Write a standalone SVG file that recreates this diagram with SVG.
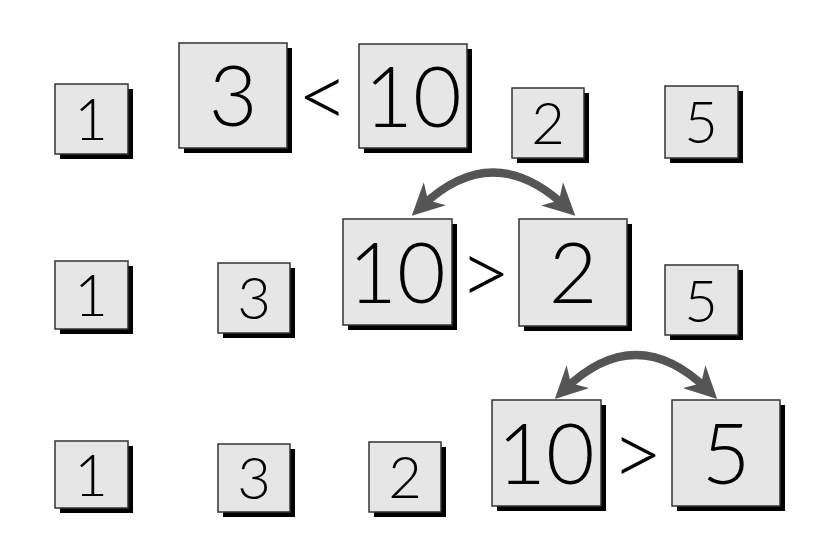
<svg xmlns="http://www.w3.org/2000/svg" width="834" height="556" viewBox="0 0 834 556">
<style>
.s{fill:#000}
.b{fill:#e6e6e6;stroke:#333;stroke-width:1.5}
.t{font-family:Lato,"Open Sans",sans-serif;font-weight:300;fill:#000;text-anchor:middle}
.sm{font-size:58px}
.bg{font-size:84px}
.op{font-size:90px}
.arc{fill:none;stroke:#555;stroke-width:8}
</style>
<defs>
<marker id="ah" viewBox="0 0 10 10" refX="6" refY="5" markerWidth="4" markerHeight="4" orient="auto-start-reverse" markerUnits="strokeWidth">
<path d="M0,0 L10,5 L0,10 L3,5 z" fill="#555"/>
</marker>
</defs>
<rect width="834" height="556" fill="#fff"/>
<g id="r1n1"><rect class="s" x="60" y="89" width="73" height="70"/><rect class="b" x="55" y="84" width="73" height="70"/><text class="t sm" x="91" y="140">1</text></g>
<g id="r1n3"><rect class="s" x="184" y="48" width="108" height="105"/><rect class="b" x="179" y="43" width="108" height="105"/><text class="t bg" x="233" y="126">3</text></g>
<g id="r1lt"><text class="t op" x="323" y="128">&lt;</text></g>
<g id="r1n10"><rect class="s" x="364" y="49" width="108" height="104"/><rect class="b" x="359" y="44" width="108" height="104"/><text class="t bg" x="413" y="127">10</text></g>
<g id="r1n2"><rect class="s" x="517" y="93" width="72" height="70"/><rect class="b" x="512" y="88" width="72" height="70"/><text class="t sm" x="548" y="144">2</text></g>
<g id="r1n5"><rect class="s" x="670" y="91" width="73" height="72"/><rect class="b" x="665" y="86" width="73" height="72"/><text class="t sm" x="701" y="143">5</text></g>

<g id="r2n1"><rect class="s" x="60" y="266" width="73" height="68"/><rect class="b" x="55" y="261" width="73" height="68"/><text class="t sm" x="91" y="316">1</text></g>
<g id="r2n3"><rect class="s" x="223" y="268" width="72" height="70"/><rect class="b" x="218" y="263" width="72" height="70"/><text class="t sm" x="254" y="319">3</text></g>
<g id="r2n10"><rect class="s" x="348" y="224" width="109" height="106"/><rect class="b" x="343" y="219" width="109" height="106"/><text class="t bg" x="397" y="303">10</text></g>
<g id="r2gt"><text class="t op" x="485" y="305">&gt;</text></g>
<g id="r2n2"><rect class="s" x="524" y="224" width="108" height="107"/><rect class="b" x="519" y="219" width="108" height="107"/><text class="t bg" x="573" y="303">2</text></g>
<g id="r2n5"><rect class="s" x="670" y="270" width="73" height="70"/><rect class="b" x="665" y="265" width="73" height="70"/><text class="t sm" x="701" y="322">5</text></g>

<g id="r3n1"><rect class="s" x="60" y="446" width="73" height="67"/><rect class="b" x="55" y="441" width="73" height="67"/><text class="t sm" x="91" y="496">1</text></g>
<g id="r3n3"><rect class="s" x="223" y="449" width="72" height="68"/><rect class="b" x="218" y="444" width="72" height="68"/><text class="t sm" x="254" y="499">3</text></g>
<g id="r3n2"><rect class="s" x="374" y="447" width="72" height="70"/><rect class="b" x="369" y="442" width="72" height="70"/><text class="t sm" x="405" y="498">2</text></g>
<g id="r3n10"><rect class="s" x="497" y="405" width="109" height="106"/><rect class="b" x="492" y="400" width="109" height="106"/><text class="t bg" x="546" y="484">10</text></g>
<g id="r3gt"><text class="t op" x="637" y="486">&gt;</text></g>
<g id="r3n5"><rect class="s" x="677" y="405" width="108" height="106"/><rect class="b" x="672" y="400" width="108" height="106"/><text class="t bg" x="726" y="484">5</text></g>

<g id="connectors">
<path class="arc" d="M421,207 Q493,138 566,207" marker-start="url(#ah)" marker-end="url(#ah)"/>
<path class="arc" d="M564,390 Q636,320 708,390" marker-start="url(#ah)" marker-end="url(#ah)"/>
</g>
</svg>
